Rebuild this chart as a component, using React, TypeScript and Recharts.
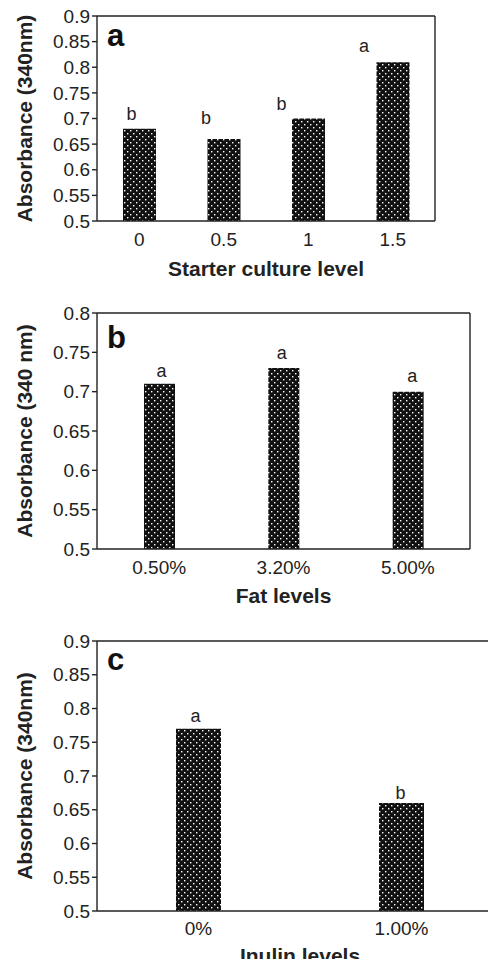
import { BarChart, Bar, XAxis, YAxis, LabelList, Label } from "recharts";

// panel a
const starterLevels = ["0", "0.5", "1", "1.5"];
const starterAbs = [0.68, 0.66, 0.7, 0.81];
const starterLetters = ["b", "b", "b", "a"];
const ticksA = [0.5, 0.55, 0.6, 0.65, 0.7, 0.75, 0.8, 0.85, 0.9];

// panel b
const fatLevels = ["0.50%", "3.20%", "5.00%"];
const fatAbs = [0.71, 0.73, 0.7];
const fatLetters = ["a", "a", "a"];
const ticksB = [0.5, 0.55, 0.6, 0.65, 0.7, 0.75, 0.8];

// panel c
const inulinLevels = ["0%", "1.00%"];
const inulinAbs = [0.77, 0.66];
const inulinLetters = ["a", "b"];
const ticksC = [0.5, 0.55, 0.6, 0.65, 0.7, 0.75, 0.8, 0.85, 0.9];

const FONT = '"Liberation Sans", Arial, Helvetica, sans-serif';
const INK = "#222";

type PanelProps = {
  id: string;
  letter: string;
  levels: string[];
  values: number[];
  letters: string[];
  ticks: number[];
  top: number;
  width: number;
  height: number;
  marginTop: number;
  marginRight: number;
  xHeight: number;
  barSize: number;
  xTitle: string;
  yTitle: string;
  titleOffset: number;
  tickGap: number;
  letterDx: number[];
  letterDy: number[];
  letterTop: number;
};

function Panel(p: PanelProps) {
  const data = p.levels.map((level, i) => ({
    level,
    value: p.values[i],
    sig: p.letters[i],
  }));
  const domain = [p.ticks[0], p.ticks[p.ticks.length - 1]];

  const renderSig = (props: any) => {
    const { x, y, width, value, index } = props;
    const i = index ?? 0;
    return (
      <text
        x={Number(x) + Number(width) / 2 + (p.letterDx[i] ?? 0)}
        y={Number(y) - (p.letterDy[i] ?? 14)}
        textAnchor="middle"
        dominantBaseline="central"
        fontSize={18}
        fontFamily={FONT}
        fill={INK}
      >
        {value}
      </text>
    );
  };

  return (
    <>
      <div style={{ position: "absolute", left: 0, top: p.top }}>
        <BarChart
          width={p.width}
          height={p.height}
          data={data}
          margin={{ top: p.marginTop - 1, right: p.marginRight - 1, bottom: 0, left: 0 }}
          style={{ overflow: "visible" }}
        >
          <defs>
            <pattern id={p.id} width={6} height={6} patternUnits="userSpaceOnUse">
              <rect width={6} height={6} fill="#111" />
              <rect x={1} y={1} width={1.4} height={1.4} fill="#fff" />
              <rect x={4} y={4} width={1.4} height={1.4} fill="#fff" />
            </pattern>
          </defs>
          <XAxis
            dataKey="level"
            height={p.xHeight}
            tickLine={false}
            tickSize={0}
            tickMargin={p.tickGap}
            axisLine={{ stroke: INK, strokeWidth: 1.4 }}
            tick={{ fontSize: 19, fill: INK, fontFamily: FONT }}
          >
            <Label
              value={p.xTitle}
              position="insideBottom"
              offset={p.titleOffset}
              style={{ fontSize: 21, fontWeight: "bold", fill: INK, fontFamily: FONT }}
            />
          </XAxis>
          <XAxis
            xAxisId="top"
            orientation="top"
            dataKey="level"
            height={1}
            tick={false}
            tickLine={false}
            axisLine={{ stroke: INK, strokeWidth: 1.4 }}
          />
          <YAxis
            width={97}
            domain={domain}
            ticks={p.ticks}
            type="number"
            interval={0}
            tickSize={5}
            tickMargin={2}
            allowDataOverflow
            axisLine={{ stroke: INK, strokeWidth: 1.4 }}
            tickLine={{ stroke: INK, strokeWidth: 1.4 }}
            tick={{ fontSize: 19, fill: INK, fontFamily: FONT }}
          >
            <Label
              value={p.yTitle}
              angle={-90}
              position="insideLeft"
              offset={25}
              style={{
                textAnchor: "middle",
                fontSize: 21,
                fontWeight: "bold",
                fill: INK,
                fontFamily: FONT,
              }}
            />
          </YAxis>
          <YAxis
            yAxisId="right"
            orientation="right"
            width={1}
            domain={[0, 1]}
            tick={false}
            tickLine={false}
            axisLine={{ stroke: INK, strokeWidth: 1.4 }}
          />
          <Bar
            dataKey="value"
            fill={`url(#${p.id})`}
            barSize={p.barSize}
            isAnimationActive={false}
          >
            <LabelList dataKey="sig" content={renderSig} />
          </Bar>
        </BarChart>
      </div>
      <div
        style={{
          position: "absolute",
          left: 107,
          top: p.letterTop,
          fontFamily: FONT,
          fontWeight: "bold",
          fontSize: 31,
          lineHeight: 1,
          color: "#111",
        }}
      >
        {p.letter}
      </div>
    </>
  );
}

export default function App() {
  return (
    <div
      style={{
        position: "relative",
        width: 496,
        height: 967,
        margin: -8,
        overflow: "hidden",
        background: "#fff",
      }}
    >
      <Panel
        id="dotsA"
        letter="a"
        levels={starterLevels}
        values={starterAbs}
        letters={starterLetters}
        ticks={ticksA}
        top={0}
        width={496}
        height={290}
        marginTop={16}
        marginRight={61}
        xHeight={69}
        barSize={33}
        xTitle="Starter culture level"
        yTitle="Absorbance (340nm)"
        titleOffset={14}
        tickGap={12}
        letterDx={[-8, -18, -27, -29]}
        letterDy={[15, 21, 15, 16]}
        letterTop={20}
      />
      <Panel
        id="dotsB"
        letter="b"
        levels={fatLevels}
        values={fatAbs}
        letters={fatLetters}
        ticks={ticksB}
        top={300}
        width={496}
        height={320}
        marginTop={13}
        marginRight={26}
        xHeight={71}
        barSize={31}
        xTitle="Fat levels"
        yTitle="Absorbance (340 nm)"
        titleOffset={17}
        tickGap={12}
        letterDx={[2, -2, 4]}
        letterDy={[13, 15, 16]}
        letterTop={322}
      />
      <Panel
        id="dotsC"
        letter="c"
        levels={inulinLevels}
        values={inulinAbs}
        letters={inulinLetters}
        ticks={ticksC}
        top={630}
        width={503}
        height={337}
        marginTop={11}
        marginRight={0}
        xHeight={56}
        barSize={45}
        xTitle="Inulin levels"
        yTitle="Absorbance (340nm)"
        titleOffset={4}
        tickGap={11}
        letterDx={[-3, -1]}
        letterDy={[13, 10]}
        letterTop={644}
      />
    </div>
  );
}
